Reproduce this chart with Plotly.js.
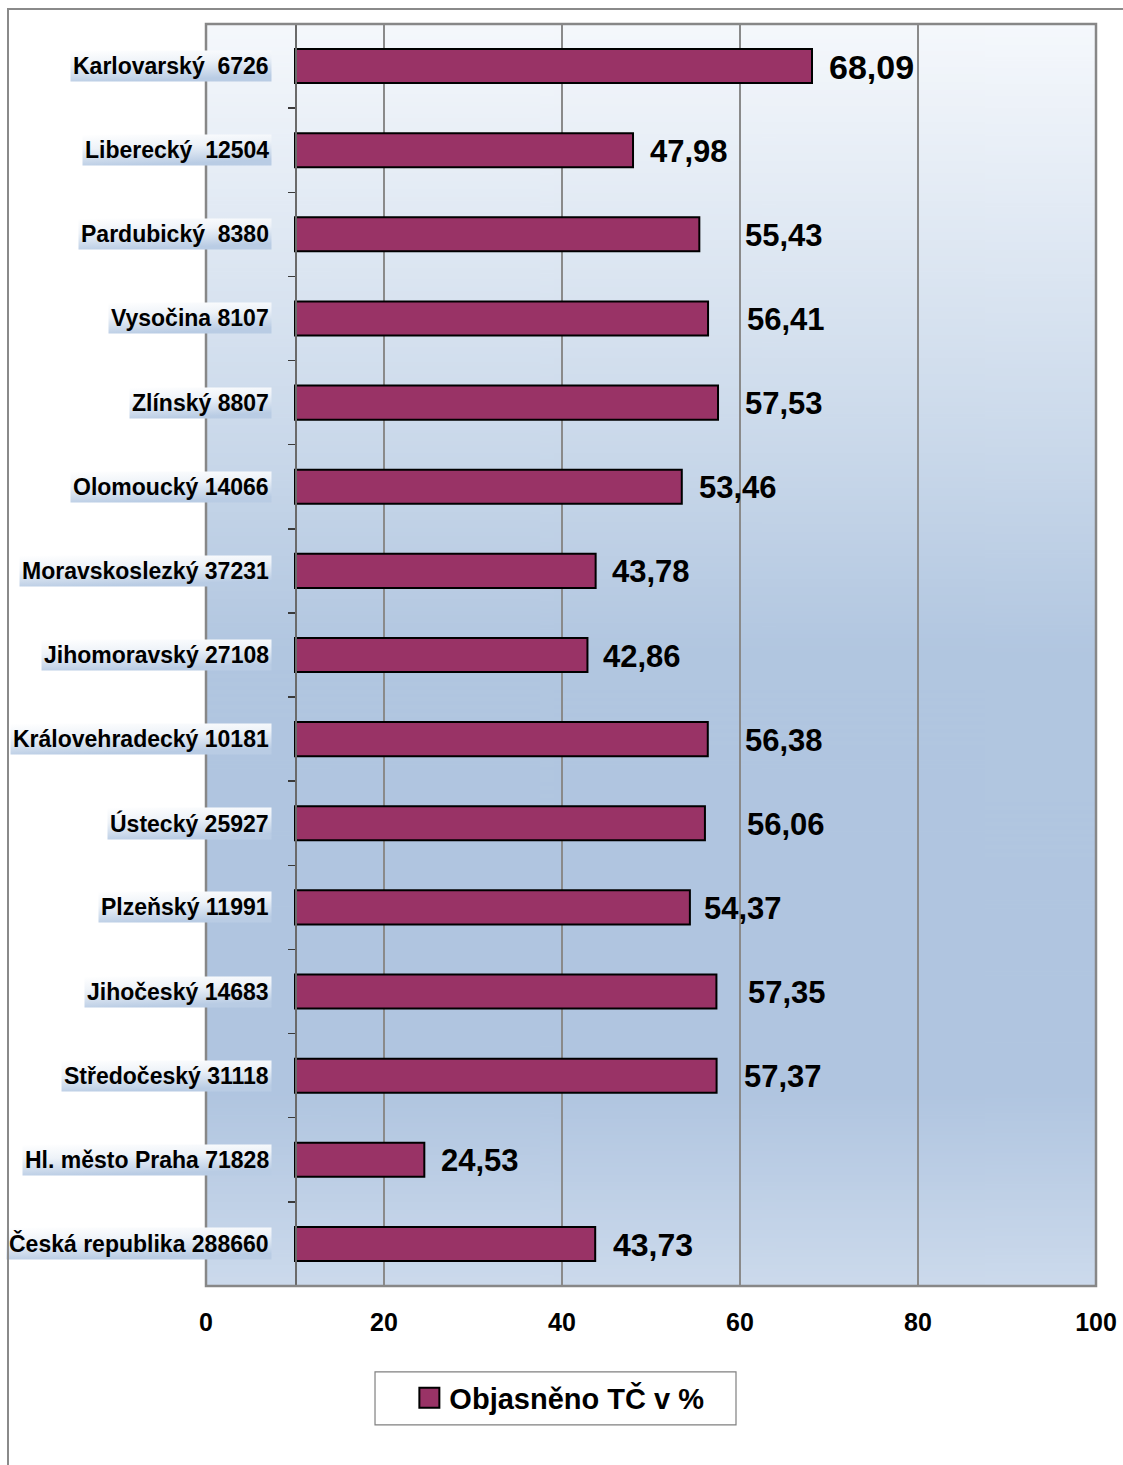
<!DOCTYPE html>
<html>
<head>
<meta charset="utf-8">
<script src="https://cdn.plot.ly/plotly-3.0.1.min.js"></script>
<style>
html,body{margin:0;padding:0;background:#ffffff;overflow:hidden;}
#chart{position:absolute;left:0;top:0;width:1123px;height:1465px;}
#frame{position:absolute;left:7px;top:8px;width:1400px;height:1700px;border-left:2px solid #8a8a8a;border-top:2px solid #8a8a8a;pointer-events:none;}
</style>
</head>
<body>
<div id="chart"></div>
<div id="frame"></div>
<script>
// ---- data ----
const categories = [
  'Karlovarský\u00a0 6726',
  'Liberecký\u00a0 12504',
  'Pardubický\u00a0 8380',
  'Vysočina 8107',
  'Zlínský 8807',
  'Olomoucký 14066',
  'Moravskoslezký 37231',
  'Jihomoravský 27108',
  'Královehradecký 10181',
  'Ústecký 25927',
  'Plzeňský 11991',
  'Jihočeský 14683',
  'Středočeský 31118',
  'Hl. město Praha 71828',
  'Česká republika 288660'
];
const values = [68.09, 47.98, 55.43, 56.41, 57.53, 53.46, 43.78, 42.86, 56.38, 56.06, 54.37, 57.35, 57.37, 24.53, 43.73];
const seriesName = 'Objasněno TČ v %';
const xTickValues = [0, 20, 40, 60, 80, 100];

// ---- style ----
const axisCross = 10;                      // vertical axis crosses the value axis at 10
const labelGap = [16, 16, 45, 38, 26, 16, 15, 15, 36, 41, 13, 31, 26, 16, 17]; // px gap bar end -> label
const labelSize = [34, 31, 31, 31, 31, 31, 31, 31, 31, 31, 31, 31, 31, 31, 32];
const FONT = '"Liberation Sans", Arial, sans-serif';
const barColor = '#993366';

const fmt = v => v.toFixed(2).replace('.', ',');

function bgGradient() {
  const c = document.createElement('canvas');
  c.width = 4; c.height = 640;
  const g = c.getContext('2d');
  const lg = g.createLinearGradient(0, 0, 0, 640);
  lg.addColorStop(0, '#f5f8fc');
  lg.addColorStop(0.34, '#c9d8ea');
  lg.addColorStop(0.5, '#b1c6e0');
  lg.addColorStop(0.845, '#b0c5e0');
  lg.addColorStop(1, '#ccdaec');
  g.fillStyle = lg;
  g.fillRect(0, 0, 4, 640);
  return c.toDataURL('image/png');
}

const trace = {
  type: 'bar',
  orientation: 'h',
  name: seriesName,
  y: categories,
  x: values.map(v => v - axisCross),
  base: axisCross,
  marker: { color: barColor, line: { color: '#000000', width: 2 } },
  hoverinfo: 'skip',
  showlegend: true
};

const annotations = [];
categories.forEach((c, i) => {
  annotations.push({
    xref: 'paper', yref: 'y', x: 0, y: c,
    xanchor: 'right', yanchor: 'middle', xshift: 66,
    text: c, showarrow: false, borderpad: 2,
    bgcolor: '#dfe8f3',
    font: { family: FONT, size: 23, weight: 'bold', color: '#000000' }
  });
});
values.forEach((v, i) => {
  annotations.push({
    xref: 'x', yref: 'y', x: v, y: categories[i],
    xanchor: 'left', yanchor: 'middle', xshift: labelGap[i] - 1, yshift: -1,
    text: fmt(v), showarrow: false,
    font: { family: FONT, size: labelSize[i], weight: 'bold', color: '#000000' }
  });
});

const layout = {
  width: 1123, height: 1465,
  margin: { l: 206, r: 27, t: 24, b: 179, pad: 0 },
  paper_bgcolor: '#ffffff',
  plot_bgcolor: 'rgba(0,0,0,0)',
  font: { family: FONT, color: '#000000' },
  bargap: 0.595,
  showlegend: true,
  legend: {
    orientation: 'h', x: 0.2285, xanchor: 'left', y: -0.0887, yanchor: 'middle',
    bgcolor: 'rgba(0,0,0,0)', borderwidth: 0,
    font: { family: FONT, size: 29, weight: 'bold', color: '#000000' }
  },
  xaxis: {
    range: [0, 100], tickmode: 'array', tickvals: xTickValues,
    showgrid: true, gridcolor: '#8a8a8a', gridwidth: 1.5,
    zeroline: false, showline: false, ticks: '',
    tickfont: { family: FONT, size: 25, weight: 'bold', color: '#000000' },
    ticklabelstandoff: 19, fixedrange: true
  },
  yaxis: {
    type: 'category', autorange: 'reversed',
    anchor: 'free', position: axisCross / 100,
    showline: true, linecolor: '#6a6a6a', linewidth: 1.5,
    ticks: 'outside', ticklen: 7, tickwidth: 1.5, tickcolor: '#3a3a3a',
    tickson: 'boundaries', showticklabels: false, showgrid: false,
    zeroline: false, fixedrange: true
  },
  images: [{
    source: bgGradient(), xref: 'paper', yref: 'paper',
    x: 0, y: 1, sizex: 1, sizey: 1, xanchor: 'left', yanchor: 'top',
    sizing: 'stretch', layer: 'below'
  }],
  shapes: [
    { type: 'rect', xref: 'paper', yref: 'paper', x0: 0, x1: 1, y0: 0, y1: 1,
      line: { color: '#878787', width: 2.5 }, layer: 'above' },
    { type: 'rect', xref: 'paper', yref: 'paper', x0: 0.1899, x1: 0.5955, y0: -0.1101, y1: -0.0681,
      line: { color: '#808080', width: 1.2 }, fillcolor: '#ffffff', layer: 'below' }
  ],
  annotations: annotations
};

function decorate() {
  const gd = document.getElementById('chart');
  const svg = gd.querySelector('.main-svg');
  if (!svg) return;
  const ns = 'http://www.w3.org/2000/svg';
  let defs = svg.querySelector('defs');
  if (!defs) { defs = document.createElementNS(ns, 'defs'); svg.insertBefore(defs, svg.firstChild); }
  if (!document.getElementById('lblGrad')) {
    const lg = document.createElementNS(ns, 'linearGradient');
    lg.setAttribute('id', 'lblGrad');
    lg.setAttribute('x1', '0'); lg.setAttribute('y1', '0');
    lg.setAttribute('x2', '0.25'); lg.setAttribute('y2', '1');
    [['0', '#ffffff'], ['0.45', '#edf2f8'], ['1', '#b9cce4']].forEach(s => {
      const st = document.createElementNS(ns, 'stop');
      st.setAttribute('offset', s[0]); st.setAttribute('stop-color', s[1]);
      lg.appendChild(st);
    });
    defs.appendChild(lg);
  }
  for (let i = 0; i < categories.length; i++) {
    gd.querySelectorAll('.annotation[data-index="' + i + '"] rect.bg').forEach(r => {
      r.style.fill = 'url(#lblGrad)';
    });
  }
  gd.querySelectorAll('.legend .legendpoints path').forEach(p => {
    p.setAttribute('d', 'M10,10H-10V-10H10Z');
  });
}

Plotly.newPlot('chart', [trace], layout, { staticPlot: true, displayModeBar: false }).then(gd => {
  decorate();
  gd.on('plotly_afterplot', decorate);
});
</script>
</body>
</html>
